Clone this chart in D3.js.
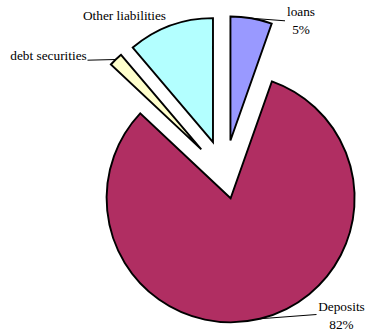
<!DOCTYPE html>
<html>
<head>
<meta charset="utf-8">
<script src="https://cdn.jsdelivr.net/npm/d3@7"></script>
<style>
  html, body { margin: 0; padding: 0; background: #fff; }
  svg { display: block; }
</style>
</head>
<body>
<svg id="chart" width="367" height="332"></svg>
<script>
// ---- data ----
const categories = ["loans", "Deposits", "debt securities", "Other liabilities"];
const values = [5.4, 81.6, 1.8, 11.2];
const colors = ["#9999FF", "#B02E62", "#FFFFCC", "#B3FFFF"];
const showPercent = [true, true, false, false];

// ---- layout ----
const cx = 224.7, cy = 174, R = 124;
const explode = [34, 25, 34, 34];
const FONT = "Liberation Serif";

const svg = d3.select("#chart");
const g = svg.append("g").attr("transform", `translate(${cx},${cy})`);

const pie = d3.pie().sort(null).value(d => d.v).startAngle(0).endAngle(2 * Math.PI);
const data = categories.map((c, i) => ({ name: c, v: values[i], i }));
const arcs = pie(data);
const arc = d3.arc().innerRadius(0).outerRadius(R);

const total = d3.sum(values);

arcs.forEach((a, i) => {
  const mid = (a.startAngle + a.endAngle) / 2;
  a.ox = Math.sin(mid) * explode[i];
  a.oy = -Math.cos(mid) * explode[i];
  a.mid = mid;
});

g.selectAll("path.slice")
  .data(arcs)
  .enter().append("path")
  .attr("class", "slice")
  .attr("transform", d => `translate(${d.ox},${d.oy})`)
  .attr("d", arc)
  .attr("fill", d => colors[d.data.i])
  .attr("stroke", "#000")
  .attr("stroke-width", 1.9)
  .attr("stroke-linejoin", "miter");

// label positions (absolute page coordinates)
const labelPos = {
  "loans": { x: 301, y: 15.7, end: [285, 20.8] },
  "Deposits": { x: 341.5, y: 310.5, end: [316.5, 314.5] },
  "debt securities": { x: 48.5, y: 60, end: [87.5, 60.2] },
  "Other liabilities": { x: 124.5, y: 20, end: null }
};

const lab = svg.append("g");
arcs.forEach(a => {
  const p = labelPos[a.data.name];
  const i = a.data.i;
  if (p.end) {
    const ex = cx + a.ox + Math.sin(a.mid) * R;
    const ey = cy + a.oy - Math.cos(a.mid) * R;
    lab.append("line")
      .attr("x1", ex).attr("y1", ey)
      .attr("x2", p.end[0]).attr("y2", p.end[1])
      .attr("stroke", "#000").attr("stroke-width", 1);
  }
  lab.append("text")
    .attr("x", p.x).attr("y", p.y)
    .attr("text-anchor", "middle")
    .attr("font-family", FONT)
    .attr("font-size", 13.3)
    .attr("fill", "#000")
    .text(a.data.name);
  if (showPercent[i]) {
    lab.append("text")
      .attr("x", p.x).attr("y", p.y + 18.6)
      .attr("text-anchor", "middle")
      .attr("font-family", FONT)
      .attr("font-size", 13.3)
      .attr("fill", "#000")
      .text(Math.round(values[i] / total * 100) + "%");
  }
});
</script>
</body>
</html>
